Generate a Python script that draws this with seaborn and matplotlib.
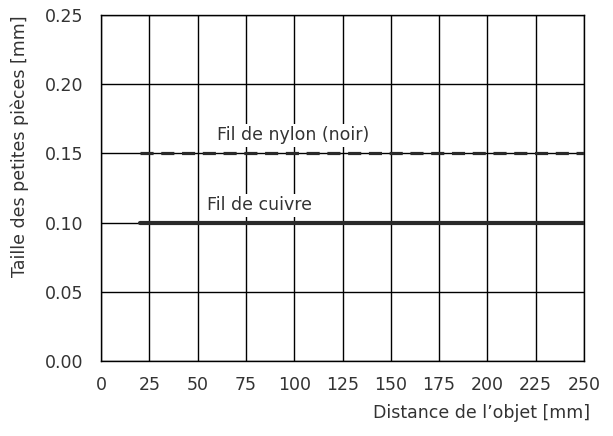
import matplotlib
matplotlib.use("Agg")
import matplotlib.pyplot as plt
import seaborn as sns
import pandas as pd

distance = [20, 250]
nylon = [0.15, 0.15]
cuivre = [0.10, 0.10]
x_ticks = [0, 25, 50, 75, 100, 125, 150, 175, 200, 225, 250]
y_ticks = [0.00, 0.05, 0.10, 0.15, 0.20, 0.25]
label_nylon = "Fil de nylon (noir)"
label_cuivre = "Fil de cuivre"

sns.set_style("white")
plt.rcParams['font.family'] = ['DejaVu Sans']

FS = 12.5
TC = "#333333"

fig = plt.figure(figsize=(6.13, 4.36), dpi=100)
ax = fig.add_axes([0.1648, 0.172, 0.7879, 0.7936])

df_n = pd.DataFrame({"x": distance, "y": nylon})
df_c = pd.DataFrame({"x": distance, "y": cuivre})
sns.lineplot(data=df_n, x="x", y="y", ax=ax, color="#2a2a2a", linewidth=2.3,
             linestyle=(0, (4.1, 2.4)), zorder=3)
sns.lineplot(data=df_c, x="x", y="y", ax=ax, color="#2a2a2a", linewidth=3.0, zorder=3)

ax.set_xlim(0, 250)
ax.set_ylim(0, 0.25)
ax.set_xticks(x_ticks)
ax.set_yticks(y_ticks)
ax.set_yticklabels([f"{v:.2f}" for v in y_ticks])
ax.grid(True, color="black", linewidth=1.0)
for s in ax.spines.values():
    s.set_color("black")
    s.set_linewidth(1.0)
ax.tick_params(axis="both", direction="out", length=4, width=1, color="black",
               labelsize=FS, labelcolor=TC)
ax.tick_params(axis="y", pad=9)
ax.tick_params(axis="x", pad=7)

bb = dict(boxstyle="square,pad=0.15", facecolor="white", edgecolor="none")
ax.text(99.6, 0.163, label_nylon, ha="center", va="center", fontsize=FS, color=TC,
        bbox=bb, zorder=4)
ax.text(81.8, 0.1125, label_cuivre, ha="center", va="center", fontsize=FS, color=TC,
        bbox=bb, zorder=4)

ax.set_xlabel("Distance de l\u2019objet [mm]", fontsize=FS, color=TC)
ax.xaxis.set_label_coords(1.012, -0.150)
ax.xaxis.label.set_ha("right")
ax.xaxis.label.set_va("center")
ax.set_ylabel("Taille des petites pi\u00e8ces [mm]", fontsize=FS, color=TC)
ax.yaxis.set_label_coords(-0.168, 1.0)
ax.yaxis.label.set_ha("right")
ax.yaxis.label.set_va("center")

fig.savefig("out.png", dpi=100)
